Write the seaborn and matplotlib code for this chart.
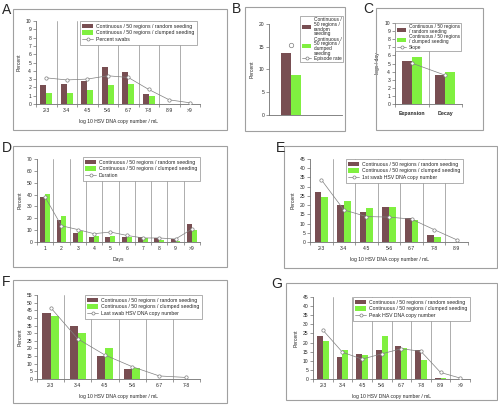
import seaborn as sns
import matplotlib.pyplot as plt
import pandas as pd
import numpy as np
from matplotlib.patches import Rectangle, Patch
from matplotlib.lines import Line2D

sns.set_style("white")
plt.rcParams['font.family'] = ['Liberation Sans', 'DejaVu Sans']

W, H = 498, 405
BROWN = '#784E52'
GREEN = '#80F040'
LINE = '#7F7F7F'
FRAME = '#A0A0A0'
GRID = '#A0A0A0'

series_names = ["Continuous / 50 regions / random seeding",
                "Continuous / 50 regions / clumped seeding"]

# A - percent swabs
a_cats = ["2-3", "3-4", "4-5", "5-6", "6-7", "7-8", "8-9", ">9"]
a_random = [2.25, 2.45, 2.8, 4.4, 3.9, 1.15, 0.05, 0]
a_clumped = [1.3, 1.3, 1.65, 2.3, 2.4, 1.0, 0, 0]
a_line = [3.15, 2.9, 3.0, 3.4, 3.2, 1.75, 0.5, 0.15]

# B - episode rate
b_random = 13.7
b_clumped = 8.8
b_episode = 15.3

# C - slopes
c_cats = ["Expansion", "Decay"]
c_random = [5.35, 3.6]
c_clumped = [5.75, 3.95]
c_line = [5.05, 3.55]

# D - duration
d_cats = ["1", "2", "3", "4", "5", "6", "7", "8", "9", ">9"]
d_random = [37.7, 18.8, 7.3, 4.4, 3.9, 4.5, 4.5, 3.1, 2.2, 14.8]
d_clumped = [40.2, 21.8, 9.0, 5.0, 5.1, 4.3, 3.1, 1.7, 0.7, 10.3]
d_line = [37.8, 13.7, 10.5, 7.0, 8.4, 5.6, 3.4, 3.4, 2.5, 10.9]

# E - first swab
e_cats = ["2-3", "3-4", "4-5", "5-6", "6-7", "7-8", "8-9"]
e_random = [27.0, 19.8, 16.4, 19.2, 12.9, 4.0, 0]
e_clumped = [24.6, 22.5, 18.7, 19.2, 11.7, 2.7, 0.2]
e_line = [33.8, 17.4, 13.8, 13.5, 12.4, 6.7, 1.2]

# F - last swab
f_cats = ["2-3", "3-4", "4-5", "5-6", "6-7", "7-8"]
f_random = [43.2, 34.8, 15.1, 6.5, 0, 0]
f_clumped = [41.5, 30.0, 20.2, 7.4, 0, 0]
f_line = [46.8, 26.3, 15.7, 8.1, 2.0, 1.0]

# G - peak
g_cats = ["2-3", "3-4", "4-5", "5-6", "6-7", "7-8", "8-9", ">9"]
g_random = [23.8, 12.3, 13.8, 16.0, 18.0, 16.0, 0.7, 0]
g_clumped = [20.8, 15.8, 12.9, 23.5, 17.2, 10.2, 0.7, 0]
g_line = [26.9, 14.7, 10.9, 13.8, 16.6, 15.2, 3.6, 0.5]

fig = plt.figure(figsize=(W / 100, H / 100), dpi=100)


def rect(x0, y0, x1, y1):
    return [x0 / W, 1 - y1 / H, (x1 - x0) / W, (y1 - y0) / H]


def frame(x0, y0, x1, y1):
    fig.add_artist(Rectangle((x0 / W, 1 - y1 / H), (x1 - x0) / W, (y1 - y0) / H,
                             transform=fig.transFigure, fill=False,
                             ec=FRAME, lw=0.8))


def letter(x, y, s):
    fig.text(x / W, 1 - y / H, s, fontsize=10, va='top', ha='left')


def bars(ax, cats, random, clumped):
    df = pd.DataFrame({
        "cat": list(cats) * 2,
        "series": [series_names[0]] * len(cats) + [series_names[1]] * len(cats),
        "val": list(random) + list(clumped),
    })
    sns.barplot(data=df, x="cat", y="val", hue="series", order=list(cats),
                hue_order=series_names, palette=[BROWN, GREEN], width=0.6,
                saturation=1, errorbar=None, legend=False, linewidth=0, ax=ax)


def style(ax, ymax, ystep, n, xlabel, ylabel):
    ax.set_ylim(0, ymax)
    ax.set_yticks(np.arange(0, ymax + 0.01, ystep))
    for s in ['top', 'right']:
        ax.spines[s].set_visible(False)
    for s in ['left', 'bottom']:
        ax.spines[s].set_color('#707070')
        ax.spines[s].set_linewidth(0.6)
    ax.tick_params(axis='y', direction='out', length=2, width=0.5,
                   color='#707070', labelsize=3.6, pad=1.5, left=True)
    ax.tick_params(axis='x', length=0, labelsize=3.6, pad=3)
    ax.set_xticks(np.arange(-0.5, n, 1.0), minor=True)
    ax.tick_params(axis='x', which='minor', direction='out', length=2,
                   width=0.5, color='#707070', bottom=True)
    ax.set_xlim(-0.5, n - 0.5)
    for i in range(n):
        ax.axvline(i + 0.5, color=GRID, lw=0.6, zorder=0)
    ax.set_xlabel(xlabel, fontsize=3.6, labelpad=4)
    ax.set_ylabel(ylabel, fontsize=3.6, labelpad=3)
    ax.patch.set_alpha(0)


def legend(ax, labels, x1, y0, fs=3.7, ls=0.35, bp=0.5, hl=2.2, linespacing=None):
    handles = [Patch(facecolor=BROWN, edgecolor='none'),
               Patch(facecolor=GREEN, edgecolor='none'),
               Line2D([], [], color=LINE, lw=0.5, marker='o', ms=2.2,
                      mfc='white', mec=LINE, mew=0.5)]
    leg = ax.legend(handles, labels, loc='upper right',
                    bbox_to_anchor=(x1 / W, 1 - y0 / H),
                    bbox_transform=fig.transFigure, fontsize=fs,
                    frameon=True, fancybox=False, framealpha=1,
                    edgecolor='#909090', borderpad=bp, handlelength=hl,
                    handleheight=0.9, handletextpad=0.5, labelspacing=ls,
                    borderaxespad=0)
    leg.get_frame().set_linewidth(0.5)
    if linespacing:
        for t in leg.get_texts():
            t.set_linespacing(linespacing)
    return leg


def line(ax, vals):
    ax.plot(np.arange(len(vals)), vals, color=LINE, lw=0.5, marker='o',
            ms=2.4, mfc='white', mec=LINE, mew=0.5, zorder=5)


xl = "log 10 HSV DNA copy number / mL"

# ---- A
frame(13, 9, 227, 130)
letter(2, 3, "A")
ax = fig.add_axes(rect(36, 21, 200, 104))
bars(ax, a_cats, a_random, a_clumped)
line(ax, a_line)
style(ax, 10, 1, len(a_cats), xl, "Percent")
legend(ax, series_names + ["Percent swabs"], 197, 21)

# ---- B
frame(245, 7, 345, 131)
letter(232, 2, "B")
ax = fig.add_axes(rect(269, 24, 342, 115))
bars(ax, [""], [b_random], [b_clumped])
ax.plot([0], [b_episode], color=LINE, lw=0, marker='o', ms=3.2,
        mfc='white', mec=LINE, mew=0.5, zorder=5)
style(ax, 20, 5, 1, "", "Percent")
for l in ax.lines[:]:
    if len(l.get_xdata()) == 2:
        l.remove()
ax.set_xlim(-0.675, 1.575)
ax.set_xticks([])
ax.set_xticks([], minor=True)
legend(ax, ["Continuous /\n50 regions /\nrandom\nseeding",
            "Continuous /\n50 regions /\nclumped\nseeding",
            "Episode rate"], 343, 16, fs=3.5, ls=0.1, bp=0.3, hl=2.0,
       linespacing=0.9)

# ---- C
frame(376, 8, 483, 130)
letter(363, 2, "C")
ax = fig.add_axes(rect(395, 23, 462, 104))
bars(ax, c_cats, c_random, c_clumped)
line(ax, c_line)
style(ax, 10, 1, len(c_cats), "", "logs / day")
for t in ax.get_xticklabels():
    t.set_fontweight('bold')
    t.set_fontsize(3.8)
ax.tick_params(axis='x', pad=5)
legend(ax, ["Continuous / 50 regions\n/ random seeding",
            "Continuous / 50 regions\n/ clumped seeding",
            "Slope"], 461, 23, fs=3.4, ls=0.1, bp=0.3, hl=2.0,
       linespacing=0.9)

# ---- D
frame(13, 146, 227, 267)
letter(2, 141, "D")
ax = fig.add_axes(rect(37, 159, 200, 242))
bars(ax, d_cats, d_random, d_clumped)
line(ax, d_line)
style(ax, 70, 10, len(d_cats), "Days", "Percent")
legend(ax, series_names + ["Duration"], 200, 157)

# ---- E
frame(284, 146, 497, 268)
letter(276, 141, "E")
ax = fig.add_axes(rect(310, 159, 468, 242))
bars(ax, e_cats, e_random, e_clumped)
line(ax, e_line)
style(ax, 45, 5, len(e_cats), xl, "Percent")
legend(ax, series_names + ["1st swab HSV DNA copy number"], 463, 159)

# ---- F
frame(13, 280, 227, 403)
letter(2, 275, "F")
ax = fig.add_axes(rect(37, 295, 200, 379))
bars(ax, f_cats, f_random, f_clumped)
line(ax, f_line)
style(ax, 55, 5, len(f_cats), xl, "Percent")
legend(ax, series_names + ["Last swab HSV DNA copy number"], 202, 295)

# ---- G
frame(286, 283, 497, 400)
letter(271, 277, "G")
ax = fig.add_axes(rect(313, 297, 470, 379))
bars(ax, g_cats, g_random, g_clumped)
line(ax, g_line)
style(ax, 45, 5, len(g_cats), xl, "Percent")
legend(ax, series_names + ["Peak HSV DNA copy number"], 470, 297)

fig.savefig("out.png", dpi=100)
plt.close(fig)
